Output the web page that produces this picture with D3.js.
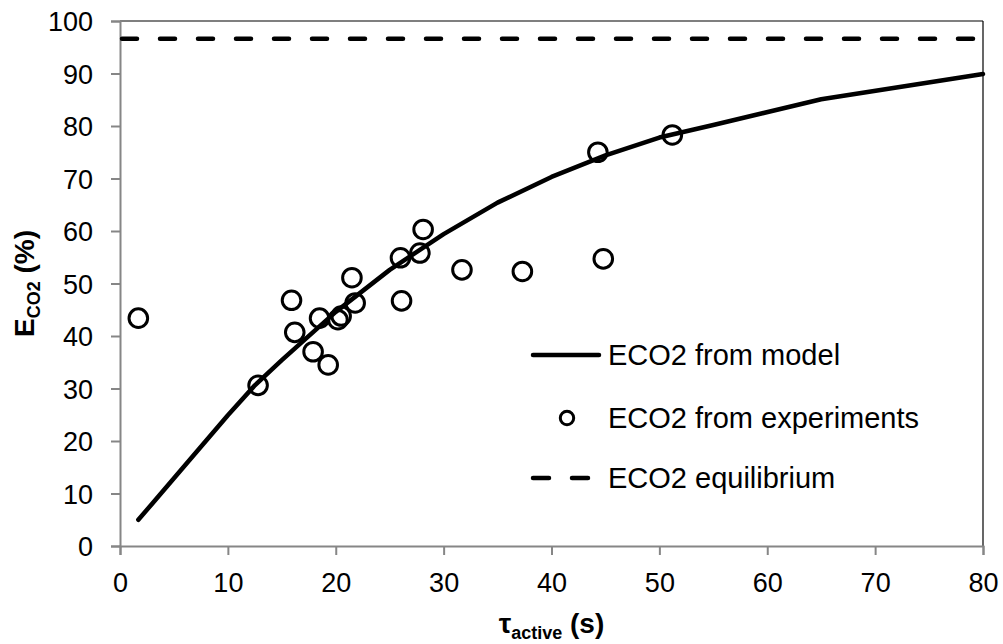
<!DOCTYPE html>
<html>
<head>
<meta charset="utf-8">
<script src="https://cdn.jsdelivr.net/npm/d3@7"></script>
<style>
  html, body { margin: 0; padding: 0; background: #fff; }
  svg { display: block; font-family: "Liberation Sans", Arial, sans-serif; }
</style>
</head>
<body>
<svg id="chart" width="1003" height="644"></svg>
<script>
// Model curve: residence time (s) vs CO2 removal efficiency (%)
const modelTime = [1.7, 3, 5, 7.5, 10, 12.5, 15, 20, 25, 30, 35, 40, 45, 50, 55, 65, 80];
const modelEff  = [5.0, 8.1, 12.9, 18.9, 24.9, 30.6, 35.4, 44.6, 52.6, 59.4, 65.4, 70.3, 74.4, 77.8, 80.2, 85.1, 89.9];

// Experimental measurements
const expTime = [1.7, 12.8, 15.9, 16.2, 17.9, 18.5, 19.3, 20.2, 20.5, 21.5, 21.8, 26.0, 26.1, 27.8, 28.1, 31.7, 37.3, 44.3, 44.8, 51.2];
const expEff  = [43.4, 30.6, 46.8, 40.7, 37.0, 43.4, 34.5, 43.1, 43.8, 51.1, 46.3, 54.9, 46.7, 55.8, 60.3, 52.6, 52.3, 75.0, 54.7, 78.3];

// Equilibrium limit
const equilibrium = 96.6;

const xTicks = [0, 10, 20, 30, 40, 50, 60, 70, 80];
const yTicks = [0, 10, 20, 30, 40, 50, 60, 70, 80, 90, 100];
const legendLabels = ["ECO2 from model", "ECO2 from experiments", "ECO2 equilibrium"];

const svg = d3.select("#chart");
const plotLeft = 120, plotRight = 983, plotTop = 21, plotBottom = 546;

const x = d3.scaleLinear().domain([0, 80]).range([plotLeft, plotRight]);
const y = d3.scaleLinear().domain([0, 100]).range([plotBottom, plotTop]);

const axisGray = "#868686";
const tickFont = 27;

// plot frame: top and right edges
svg.append("line").attr("x1", plotLeft).attr("x2", plotRight).attr("y1", plotTop).attr("y2", plotTop)
  .attr("stroke", "#000").attr("stroke-width", 1.2);
svg.append("line").attr("x1", plotRight).attr("x2", plotRight).attr("y1", plotTop).attr("y2", plotBottom)
  .attr("stroke", "#000").attr("stroke-width", 1.2);

// y axis
const yAxis = svg.append("g").attr("transform", `translate(${plotLeft},0)`)
  .call(d3.axisLeft(y).tickValues(yTicks).tickSize(9).tickPadding(18).tickFormat(d3.format("d")));
// x axis
const xAxis = svg.append("g").attr("transform", `translate(0,${plotBottom})`)
  .call(d3.axisBottom(x).tickValues(xTicks).tickSize(9).tickPadding(18).tickFormat(d3.format("d")));

[xAxis, yAxis].forEach(g => {
  g.select(".domain").attr("stroke", axisGray).attr("stroke-width", 2);
  g.selectAll(".tick line").attr("stroke", axisGray).attr("stroke-width", 2);
  g.selectAll(".tick text").attr("fill", "#000").attr("font-size", tickFont)
    .attr("font-family", "Liberation Sans, Arial, sans-serif");
});
yAxis.selectAll(".tick text").attr("dy", "0.36em");
xAxis.selectAll(".tick text").attr("dy", "0.71em");

// equilibrium dashed line
svg.append("line")
  .attr("x1", x(0) + 2).attr("x2", x(80) - 2)
  .attr("y1", y(equilibrium)).attr("y2", y(equilibrium))
  .attr("stroke", "#000").attr("stroke-width", 4.5)
  .attr("stroke-linecap", "round").attr("stroke-dasharray", "15,23");

// model curve
const line = d3.line().x(d => x(d[0])).y(d => y(d[1]));
svg.append("path")
  .datum(modelTime.map((t, i) => [t, modelEff[i]]))
  .attr("d", line)
  .attr("fill", "none").attr("stroke", "#000").attr("stroke-width", 4.5)
  .attr("stroke-linecap", "round").attr("stroke-linejoin", "round");

// experiment markers
svg.append("g").selectAll("circle")
  .data(expTime.map((t, i) => [t, expEff[i]]))
  .join("circle")
  .attr("cx", d => x(d[0])).attr("cy", d => y(d[1])).attr("r", 9.3)
  .attr("fill", "none").attr("stroke", "#000").attr("stroke-width", 3);

// legend
const lg = svg.append("g");
const lgX0 = 533, lgX1 = 599, lgText = 608;
const rows = [355, 418, 478];
lg.append("line").attr("x1", lgX0).attr("x2", lgX1).attr("y1", rows[0]).attr("y2", rows[0])
  .attr("stroke", "#000").attr("stroke-width", 4.5).attr("stroke-linecap", "round");
lg.append("circle").attr("cx", 567).attr("cy", rows[1]).attr("r", 6.7)
  .attr("fill", "none").attr("stroke", "#000").attr("stroke-width", 3);
lg.append("line").attr("x1", lgX0).attr("x2", lgX1).attr("y1", rows[2]).attr("y2", rows[2])
  .attr("stroke", "#000").attr("stroke-width", 4.5).attr("stroke-linecap", "round")
  .attr("stroke-dasharray", "16,23");
legendLabels.forEach((t, i) => {
  lg.append("text").attr("x", lgText).attr("y", rows[i]).attr("dy", "0.36em")
    .attr("font-size", 29).attr("fill", "#000").text(t);
});

// x axis title
const xt = svg.append("text").attr("x", (plotLeft + plotRight) / 2).attr("y", 633)
  .attr("text-anchor", "middle").attr("font-weight", "bold").attr("font-size", 28);
xt.append("tspan").text("τ");
xt.append("tspan").attr("font-size", 18).attr("dy", 6).text("active");
xt.append("tspan").attr("dy", -6).text(" (s)");

// y axis title
const yt = svg.append("text")
  .attr("transform", `translate(34,${(plotTop + plotBottom) / 2}) rotate(-90)`)
  .attr("text-anchor", "middle").attr("font-weight", "bold").attr("font-size", 28);
yt.append("tspan").text("E");
yt.append("tspan").attr("font-size", 18).attr("dy", 6).text("CO2");
yt.append("tspan").attr("dy", -6).text(" (%)");
</script>
</body>
</html>
